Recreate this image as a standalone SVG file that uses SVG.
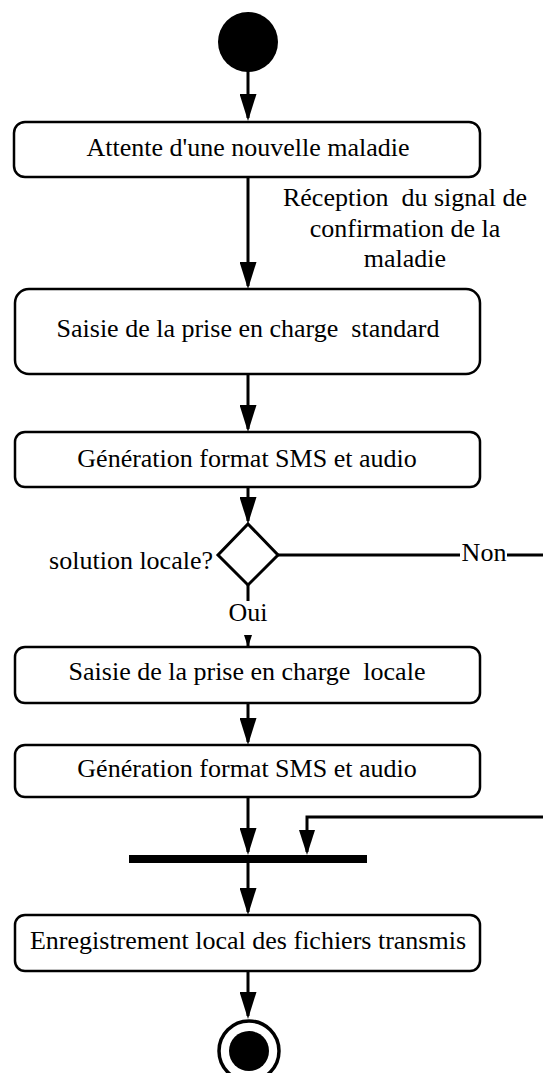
<svg xmlns="http://www.w3.org/2000/svg" width="543" height="1073" viewBox="0 0 543 1073">
<style>
.box{fill:#fff;stroke:#000;stroke-width:2.5}
.t{font-family:'Liberation Serif','DejaVu Serif',serif;font-size:26px;fill:#000}
.c{text-anchor:middle}
.e{text-anchor:end}
.ln{fill:none;stroke:#000;stroke-width:3}
</style>
<defs>
<marker id="arr" viewBox="0 0 27 17" markerWidth="27" markerHeight="17" refX="24" refY="8.5" orient="auto" markerUnits="userSpaceOnUse">
<path d="M0,0 L27,8.5 L0,17 Z" fill="#000"/>
</marker>
<marker id="arr2" viewBox="0 0 25 16" markerWidth="25" markerHeight="16" refX="22" refY="8" orient="auto" markerUnits="userSpaceOnUse">
<path d="M0,0 L25,8 L0,16 Z" fill="#000"/>
</marker>
<marker id="sm" viewBox="0 0 12 8" markerWidth="12" markerHeight="8" refX="11" refY="4" orient="auto" markerUnits="userSpaceOnUse">
<path d="M0,0 L12,4 L0,8 Z" fill="#000"/>
</marker>
</defs>

<g id="connectors">
<path class="ln" d="M248,71 V118" marker-end="url(#arr)"/>
<path class="ln" d="M248,177 V286" marker-end="url(#arr)"/>
<path class="ln" d="M248,374 V429" marker-end="url(#arr)"/>
<path class="ln" d="M248,487 V521" marker-end="url(#arr)"/>
<path class="ln" d="M248,585 V601"/>
<path class="ln" d="M248,637 V646" stroke-width="1" marker-end="url(#sm)"/>
<path class="ln" d="M278,555 H460"/>
<path class="ln" d="M507,555 H545"/>
<path class="ln" d="M248,703 V742" marker-end="url(#arr)"/>
<path class="ln" d="M248,797 V852" marker-end="url(#arr)"/>
<path class="ln" d="M545,817 H307 V852" marker-end="url(#arr2)"/>
<path class="ln" d="M248,863 V912" stroke-width="2.5" marker-end="url(#arr)"/>
<path class="ln" d="M248,971 V1016" stroke-width="2.5" marker-end="url(#arr)"/>
<text class="t" x="405" y="206" xml:space="preserve" text-anchor="middle">Réception  du signal de</text>
<text class="t c" x="405" y="237">confirmation de la</text>
<text class="t c" x="405" y="267">maladie</text>
<text class="t c" x="248" y="621">Oui</text>
<text class="t c" x="484" y="561">Non</text>
</g>

<g id="start"><circle cx="248" cy="42" r="30" fill="#000"/></g>

<g id="n1"><rect class="box" x="14" y="122" width="466" height="55" rx="11"/>
<text class="t c" x="248" y="156">Attente d'une nouvelle maladie</text></g>

<g id="n2"><rect class="box" x="15" y="289" width="465" height="85" rx="14"/>
<text class="t" x="248" y="337" xml:space="preserve" text-anchor="middle">Saisie de la prise en charge  standard</text></g>

<g id="n3"><rect class="box" x="15" y="432" width="465" height="55" rx="10"/>
<text class="t c" x="247" y="467">Génération format SMS et audio</text></g>

<g id="decision"><polygon points="248,524 278,555 248,585 218,555" fill="#fff" stroke="#000" stroke-width="3"/>
<text class="t e" x="213" y="569">solution locale?</text></g>

<g id="n4"><rect class="box" x="15" y="647" width="465" height="56" rx="10"/>
<text class="t" x="247" y="680" xml:space="preserve" text-anchor="middle">Saisie de la prise en charge  locale</text></g>

<g id="n5"><rect class="box" x="15" y="745" width="465" height="52" rx="10"/>
<text class="t c" x="247" y="777">Génération format SMS et audio</text></g>

<g id="join"><rect x="129" y="855" width="238" height="8" fill="#000"/></g>

<g id="n6"><rect class="box" x="15" y="915" width="465" height="56" rx="10"/>
<text class="t c" x="248" y="949">Enregistrement local des fichiers transmis</text></g>

<g id="end"><circle cx="249" cy="1051" r="30" fill="#fff" stroke="#000" stroke-width="3.5"/>
<circle cx="249" cy="1051" r="20" fill="#000"/></g>
</svg>
